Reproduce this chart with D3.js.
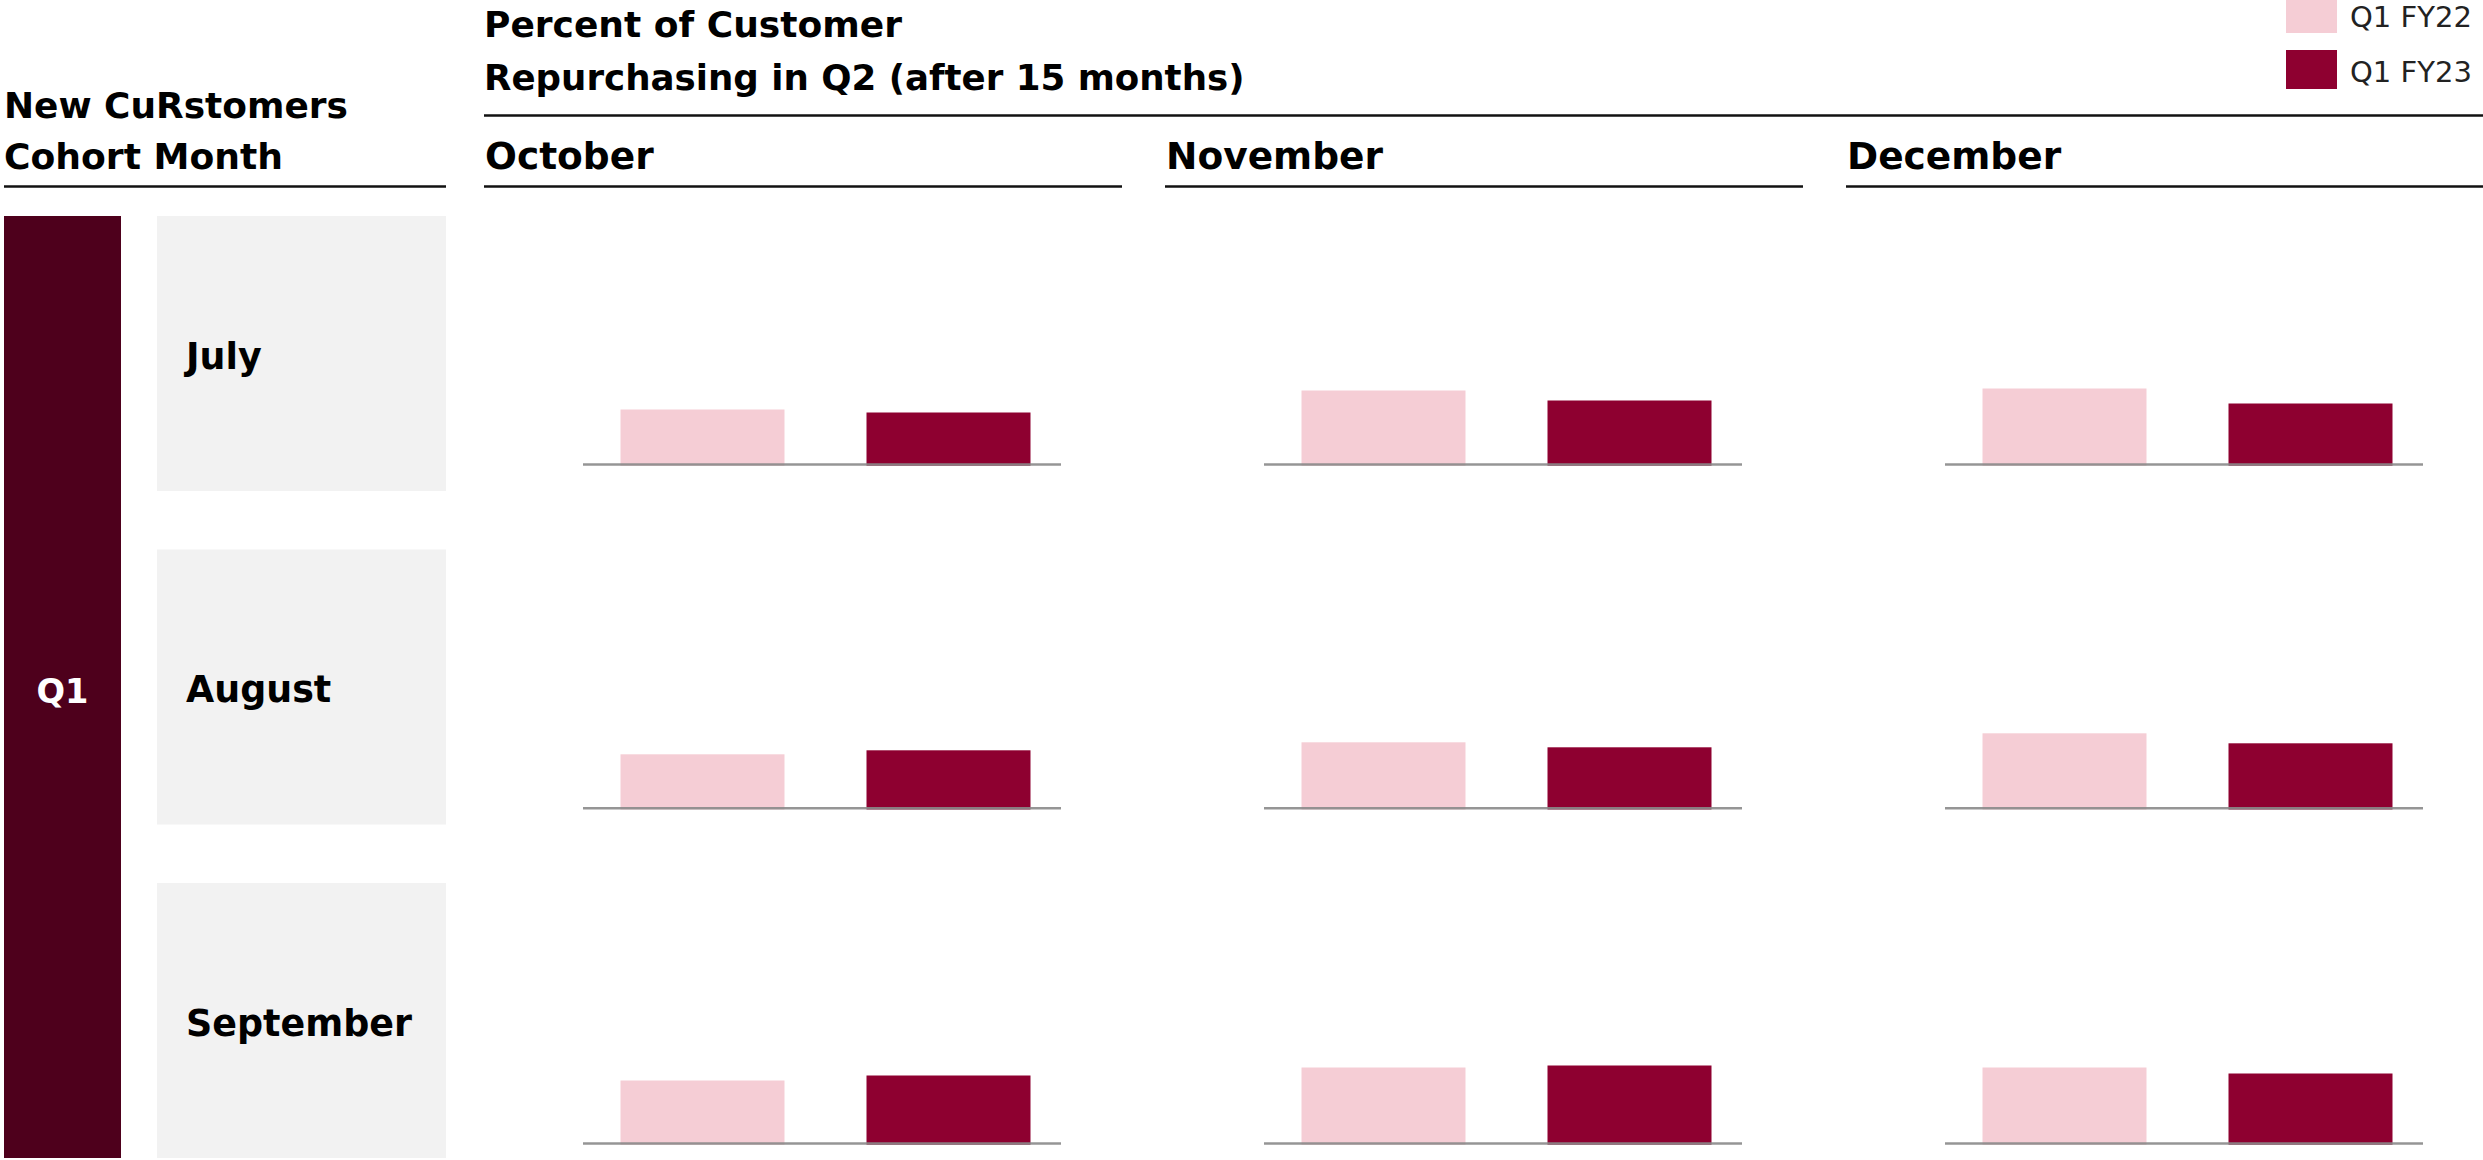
<!DOCTYPE html>
<html>
<head>
<meta charset="utf-8">
<script src="https://cdn.jsdelivr.net/npm/d3@7"></script>
<style>
  html, body { margin: 0; padding: 0; background: #fff; }
  svg { display: block; }
  text { font-family: "DejaVu Sans", sans-serif; }
</style>
</head>
<body>
<svg id="chart" width="2483" height="1160"></svg>
<script>
// ---------- data ----------
const quarter = "Q1";
const cohortMonths = ["July", "August", "September"];
const repurchaseMonths = ["October", "November", "December"];
const seriesNames = ["Q1 FY22", "Q1 FY23"];
// percent of customers repurchasing
const fy22Values = [
  [5.5, 7.4, 7.6],   // July cohort: Oct, Nov, Dec
  [5.4, 6.6, 7.5],   // August
  [6.3, 7.6, 7.6]    // September
];
const fy23Values = [
  [5.2, 6.4, 6.1],
  [5.8, 6.1, 6.5],
  [6.8, 7.8, 7.0]
];
const titleLines = ["Percent of Customer", "Repurchasing in Q2 (after 15 months)"];
const leftHeaderLines = ["New CuRstomers", "Cohort Month"];

// ---------- styles ----------
const colors = { "Q1 FY22": "#f5cdd5", "Q1 FY23": "#8e0030" };
const quarterColor = "#4e001c";
const boxColor = "#f2f2f2";
const axisColor = "#8a8a8a";

const svg = d3.select("#chart");

function fitWidth(sel, target) {
  const w = sel.node().getComputedTextLength();
  const fs = parseFloat(sel.attr("font-size"));
  const nfs = fs * target / w;
  sel.attr("font-size", nfs);
  return nfs;
}

// ---------- layout scales ----------
const colX = d3.scaleBand().domain(repurchaseMonths).range([484, 484 + 3 * 681]);
const colRuleW = 638;
const rowY = d3.scaleBand().domain(cohortMonths).range([216, 216 + 3 * 333.5]);
const boxH = 275;
const rowBaseline = { "July": 464.5, "August": 808.3, "September": 1143.5 };

const barOffset = 136.5;      // from column start to first bar
const barSpan = 410;          // first bar start to last bar end
const axisLeftPad = 37.5, axisRightPad = 30.5;

const xInner = d3.scaleBand().domain(seriesNames).range([0, barSpan]).paddingInner(1/3).paddingOuter(0);
const yH = d3.scaleLinear().domain([0, 10]).range([0, 100]);

// ---------- headers ----------
const t1 = svg.append("text").attr("x", 484).attr("y", 37).attr("font-weight", "bold")
  .attr("font-size", 34).attr("fill", "#000").text(titleLines[0]);
fitWidth(t1, 418);
const t2 = svg.append("text").attr("x", 484).attr("y", 90).attr("font-weight", "bold")
  .attr("font-size", 34).attr("fill", "#000").text(titleLines[1]);
fitWidth(t2, 761);
svg.append("line").attr("x1", 484).attr("x2", 2483).attr("y1", 115.5).attr("y2", 115.5)
  .attr("stroke", "#111").attr("stroke-width", 2.5);

const l1 = svg.append("text").attr("x", 4).attr("y", 118).attr("font-weight", "bold")
  .attr("font-size", 32).attr("fill", "#000").text(leftHeaderLines[0]);
fitWidth(l1, 344);
const l2 = svg.append("text").attr("x", 4).attr("y", 169).attr("font-weight", "bold")
  .attr("font-size", 32).attr("fill", "#000").text(leftHeaderLines[1]);
fitWidth(l2, 279);
svg.append("line").attr("x1", 4).attr("x2", 446).attr("y1", 186.5).attr("y2", 186.5)
  .attr("stroke", "#111").attr("stroke-width", 2.5);

// column headers
const colHeads = svg.selectAll("text.colhead").data(repurchaseMonths).join("text")
  .attr("class", "colhead")
  .attr("x", d => colX(d) + 1).attr("y", 169)
  .attr("font-weight", "bold").attr("font-size", 36).attr("fill", "#000")
  .text(d => d);
const colFs = fitWidth(colHeads.filter(d => d === "November"), 217);
colHeads.attr("font-size", colFs);
svg.selectAll("line.colrule").data(repurchaseMonths).join("line")
  .attr("class", "colrule")
  .attr("x1", d => colX(d)).attr("x2", d => colX(d) + colRuleW)
  .attr("y1", 186.5).attr("y2", 186.5)
  .attr("stroke", "#111").attr("stroke-width", 2.5);

// ---------- legend ----------
const legend = svg.append("g");
seriesNames.forEach((s, i) => {
  legend.append("rect").attr("x", 2286).attr("y", -6 + i * 56).attr("width", 51).attr("height", 39)
    .attr("fill", colors[s]);
  const lt = legend.append("text").attr("x", 2350).attr("y", 27 + i * 55)
    .attr("font-size", 26).attr("fill", "#222").text(s);
  fitWidth(lt, 122);
});

// ---------- quarter bar ----------
svg.append("rect").attr("x", 4).attr("y", 216).attr("width", 117).attr("height", 942)
  .attr("fill", quarterColor);
const q = svg.append("text").attr("x", 62.5).attr("y", 703).attr("text-anchor", "middle")
  .attr("font-weight", "bold").attr("font-size", 36).attr("fill", "#fff").text(quarter);
fitWidth(q, 52);

// ---------- cohort boxes ----------
svg.selectAll("rect.box").data(cohortMonths).join("rect")
  .attr("class", "box")
  .attr("x", 157).attr("y", d => rowY(d)).attr("width", 289).attr("height", boxH)
  .attr("fill", boxColor);
const monthLabels = svg.selectAll("text.month").data(cohortMonths).join("text")
  .attr("class", "month")
  .attr("x", 186).attr("y", d => rowY(d) + boxH / 2 + 15)
  .attr("font-weight", "bold").attr("font-size", 40).attr("fill", "#000")
  .text(d => d);
const mFs = fitWidth(monthLabels.filter(d => d === "September"), 226);
monthLabels.attr("font-size", mFs);

// ---------- bars ----------
const panels = [];
cohortMonths.forEach((m, ri) => {
  repurchaseMonths.forEach((c, ci) => {
    panels.push({ row: m, col: c, values: [fy22Values[ri][ci], fy23Values[ri][ci]] });
  });
});

const pg = svg.selectAll("g.panel").data(panels).join("g")
  .attr("class", "panel")
  .attr("transform", d => `translate(${colX(d.col) + barOffset},${rowBaseline[d.row]})`);

pg.selectAll("rect.bar").data(d => d.values.map((v, i) => ({ series: seriesNames[i], value: v })))
  .join("rect")
  .attr("class", "bar")
  .attr("x", d => xInner(d.series))
  .attr("width", xInner.bandwidth())
  .attr("y", d => -yH(d.value))
  .attr("height", d => yH(d.value) + 1.2)
  .attr("fill", d => colors[d.series]);

pg.append("line")
  .attr("x1", -axisLeftPad).attr("x2", barSpan + axisRightPad)
  .attr("y1", 0).attr("y2", 0)
  .attr("stroke", axisColor).attr("stroke-width", 2.4).attr("stroke-opacity", 0.9);
</script>
</body>
</html>
